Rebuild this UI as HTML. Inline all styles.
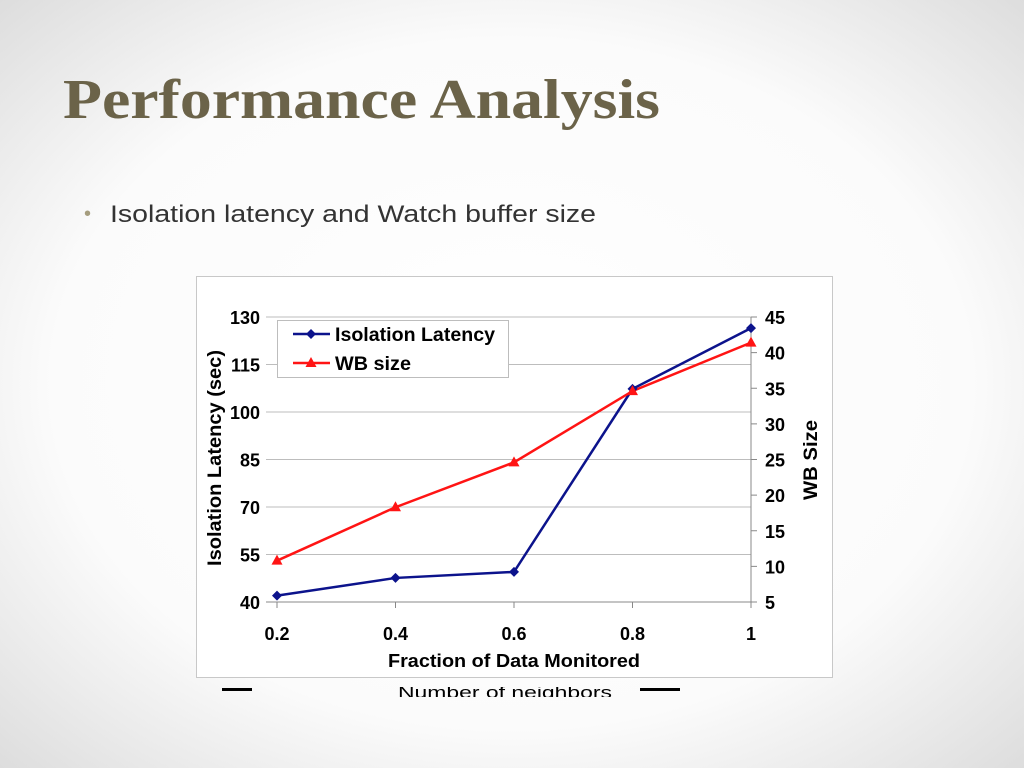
<!DOCTYPE html>
<html><head><meta charset="utf-8"><style>
html,body{margin:0;padding:0;width:1024px;height:768px;overflow:hidden;background:#fff}
</style></head><body>
<svg id="s" width="1024" height="768" viewBox="0 0 1024 768" xmlns="http://www.w3.org/2000/svg">
<defs>
<radialGradient id="bg" cx="50%" cy="50%" r="75%">
<stop offset="0" stop-color="#ffffff"/><stop offset="0.6" stop-color="#fbfbfb"/><stop offset="1" stop-color="#d8d8d8"/>
</radialGradient>
<clipPath id="capclip"><rect x="195" y="687" width="640" height="10"/></clipPath>
</defs>
<rect width="1024" height="768" fill="url(#bg)"/>
<text x="63" y="118" font-family="Liberation Serif, serif" font-weight="bold" font-size="56" fill="#6b6349" textLength="597" lengthAdjust="spacingAndGlyphs">Performance Analysis</text>
<text x="84" y="220" font-family="Liberation Sans, sans-serif" font-size="20" fill="#a59d7e">•</text>
<text x="110" y="222" font-family="Liberation Sans, sans-serif" font-size="24" fill="#333" textLength="486" lengthAdjust="spacingAndGlyphs">Isolation latency and Watch buffer size</text>
<rect x="196.5" y="276.5" width="636" height="401" fill="#fff" stroke="#c8c8c8"/>
<g clip-path="url(#capclip)">
<text x="398" y="698" font-family="Liberation Sans, sans-serif" font-size="17" fill="#000" textLength="214" lengthAdjust="spacingAndGlyphs">Number of neighbors</text>
<rect x="222" y="688" width="30" height="3" fill="#000"/>
<rect x="640" y="688" width="40" height="3" fill="#000"/>
</g>
<g id="chart"></g>
</svg>
<script>
const categories = [0.2, 0.4, 0.6, 0.8, 1];
const xTickLabels = ["0.2", "0.4", "0.6", "0.8", "1"];
const latency = [42, 47.6, 49.5, 107.3, 126.5];
const wbSize = [10.8, 18.3, 24.6, 34.6, 41.4];
const leftTicks = [40, 55, 70, 85, 100, 115, 130];
const rightTicks = [5, 10, 15, 20, 25, 30, 35, 40, 45];

const NS = "http://www.w3.org/2000/svg";
const g = document.getElementById('chart');
const X0 = 277, X1 = 751, YT = 317, YB = 602, PL = 266;
const xs = v => X0 + (v - 0.2) / 0.8 * (X1 - X0);
const yL = v => YB - (v - 40) / 90 * (YB - YT);
const yR = v => YB - (v - 5) / 40 * (YB - YT);
function mk(tag, attrs, parent) {
  const e = document.createElementNS(NS, tag);
  for (const k in attrs) e.setAttribute(k, attrs[k]);
  (parent || g).appendChild(e);
  return e;
}
const F = "Liberation Sans, sans-serif";
leftTicks.forEach(t => {
  const l = mk('line', {x1: PL, x2: X1, y1: yL(t), y2: yL(t), stroke: t === 40 ? '#888' : '#bdbdbd', 'stroke-width': 1});
  
  
  const tx = mk('text', {x: 260, y: yL(t) + 7, 'text-anchor': 'end', 'font-family': F, 'font-weight': 'bold', 'font-size': 18, fill: '#000'});
  tx.textContent = t;
  
  
});
const ra = mk('line', {x1: X1, x2: X1, y1: YT, y2: YB, stroke: '#888'});


rightTicks.forEach(t => {
  const tk = mk('line', {x1: X1, x2: X1 + 6, y1: yR(t), y2: yR(t), stroke: '#888'});
  
  
  const tx = mk('text', {x: 765, y: yR(t) + 7, 'font-family': F, 'font-weight': 'bold', 'font-size': 18, fill: '#000'});
  tx.textContent = t;
  
  
});
categories.forEach((c, i) => {
  const tk = mk('line', {x1: xs(c), x2: xs(c), y1: YB, y2: YB + 6, stroke: '#888'});
  
  
  const tx = mk('text', {x: xs(c), y: 640, 'text-anchor': 'middle', 'font-family': F, 'font-weight': 'bold', 'font-size': 18, fill: '#000'});
  tx.textContent = xTickLabels[i];
  
  
});
let t1 = mk('text', {x: 388, y: 667, 'font-family': F, 'font-weight': 'bold', 'font-size': 18, fill: '#000', textLength: 252, lengthAdjust: 'spacingAndGlyphs'});
t1.textContent = 'Fraction of Data Monitored';


let t2 = mk('text', {x: 0, y: 0, 'font-family': F, 'font-weight': 'bold', 'font-size': 19, fill: '#000', textLength: 216, lengthAdjust: 'spacingAndGlyphs', transform: 'translate(221,566) rotate(-90)'});
t2.textContent = 'Isolation Latency (sec)';


let t3 = mk('text', {x: 0, y: 0, 'font-family': F, 'font-weight': 'bold', 'font-size': 19, fill: '#000', textLength: 80, lengthAdjust: 'spacingAndGlyphs', transform: 'translate(817,500) rotate(-90)'});
t3.textContent = 'WB Size';


function diamond(x, y, col, parent) { return mk('polygon', {points: `${x},${y-5} ${x+5},${y} ${x},${y+5} ${x-5},${y}`, fill: col}, parent); }
function tri(x, y, col, parent) { return mk('polygon', {points: `${x},${y-6} ${x+5.5},${y+4} ${x-5.5},${y+4}`, fill: col}, parent); }
const blue = '#0c138c', red = '#ff1414';
const pl1 = mk('polyline', {points: categories.map((c, i) => xs(c) + ',' + yL(latency[i])).join(' '), fill: 'none', stroke: blue, 'stroke-width': 2.5});


const pl2 = mk('polyline', {points: categories.map((c, i) => xs(c) + ',' + yR(wbSize[i])).join(' '), fill: 'none', stroke: red, 'stroke-width': 2.5});


categories.forEach((c, i) => {
  const d = diamond(xs(c), yL(latency[i]), blue);
  
  
  const t = tri(xs(c), yR(wbSize[i]), red);
  
  
});
const lg = mk('g', {});


mk('rect', {x: 277.5, y: 320.5, width: 231, height: 57, fill: '#fff', stroke: '#bdbdbd'}, lg);
const e1 = mk('g', {}, lg);


mk('line', {x1: 293, x2: 330, y1: 334, y2: 334, stroke: blue, 'stroke-width': 2.5}, e1);
diamond(311, 334, blue, e1);
let lt1 = mk('text', {x: 335, y: 341, 'font-family': F, 'font-weight': 'bold', 'font-size': 19, fill: '#000', textLength: 160, lengthAdjust: 'spacingAndGlyphs'}, e1);
lt1.textContent = 'Isolation Latency';
const e2 = mk('g', {}, lg);


mk('line', {x1: 293, x2: 330, y1: 363, y2: 363, stroke: red, 'stroke-width': 2.5}, e2);
tri(311, 363, red, e2);
let lt2 = mk('text', {x: 335, y: 370, 'font-family': F, 'font-weight': 'bold', 'font-size': 19, fill: '#000', textLength: 76, lengthAdjust: 'spacingAndGlyphs'}, e2);
lt2.textContent = 'WB size';
</script>
</body></html>
